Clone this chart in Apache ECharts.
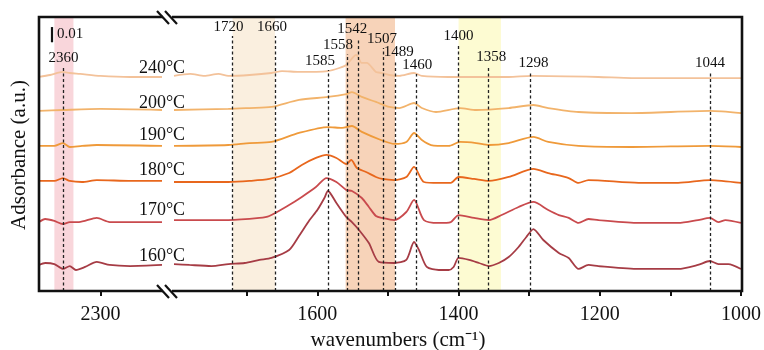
<!DOCTYPE html>
<html>
<head>
<meta charset="utf-8">
<script src="https://cdn.jsdelivr.net/npm/echarts@6.0.0/dist/echarts.min.js"></script>
<style>
  html, body { margin: 0; padding: 0; background: #fff; }
  #chart { width: 764px; height: 350px; }
</style>
</head>
<body>
<div id="chart"></div>
<script>
// x ranges of the two halves of the broken axis (cm-1)
const LEFT_RANGE = [2200, 2400];
const RIGHT_RANGE = [1000, 1803];

const LEFT_TICKS = [2300];
const RIGHT_TICKS = [1700, 1600, 1500, 1400, 1300, 1200, 1100, 1000];
const RIGHT_LABELS = [1600, 1400, 1200, 1000];

const TEMPS = ['240°C', '200°C', '190°C', '180°C', '170°C', '160°C'];
const COLORS = ['#f3c29a', '#f2b36b', '#ef9a3a', '#e8671d', '#c94a4d', '#a63c45'];

// spectra, [wavenumber, absorbance (offset)]
const T240_L = [[2400,0.1406],[2382,0.1419],[2361,0.1439],[2350,0.1432],[2333,0.1426],[2300,0.1413],[2252,0.1406],[2200,0.1406]];
const T240_R = [[1803,0.1413],[1780,0.1426],[1760,0.1413],[1740,0.1426],[1726,0.1413],[1696,0.1419],[1665,0.1432],[1650,0.1445],[1626,0.1439],[1585,0.1445],[1569,0.1465],[1559,0.1485],[1545,0.1551],[1537,0.1498],[1530,0.1498],[1517,0.1439],[1508,0.1432],[1498,0.1419],[1484,0.1413],[1463,0.1432],[1452,0.1413],[1414,0.1406],[1366,0.1406],[1329,0.1406],[1297,0.1413],[1202,0.1406],[1155,0.1399],[1000,0.1399]];

const T200_L = [[2400,0.1183],[2361,0.1189],[2300,0.1196],[2200,0.1189]];
const T200_R = [[1803,0.1189],[1726,0.1196],[1696,0.1202],[1665,0.1209],[1626,0.1255],[1585,0.1275],[1559,0.1294],[1551,0.1307],[1537,0.1275],[1517,0.1242],[1498,0.1209],[1484,0.1202],[1463,0.1235],[1452,0.1202],[1432,0.1176],[1398,0.1202],[1375,0.1189],[1329,0.1202],[1294,0.1222],[1273,0.1202],[1230,0.1176],[1155,0.1169],[1044,0.1183],[1000,0.1169]];

const T190_L = [[2400,0.0953],[2375,0.0953],[2361,0.0972],[2350,0.0946],[2330,0.0953],[2306,0.0959],[2200,0.0953]];
const T190_R = [[1803,0.0953],[1726,0.0959],[1696,0.0972],[1665,0.0979],[1626,0.1038],[1585,0.1077],[1565,0.1071],[1551,0.1084],[1537,0.1045],[1510,0.0992],[1491,0.0966],[1474,0.0979],[1463,0.1038],[1452,0.0992],[1439,0.0959],[1414,0.0953],[1398,0.0979],[1375,0.0972],[1357,0.0959],[1329,0.0972],[1294,0.1012],[1273,0.0979],[1230,0.0953],[1155,0.0946],[1044,0.0953],[1000,0.0946]];

const T180_L = [[2400,0.0723],[2375,0.0723],[2361,0.0742],[2350,0.0723],[2330,0.0716],[2306,0.0729],[2250,0.0723],[2200,0.0723]];
const T180_R = [[1803,0.0716],[1726,0.0716],[1696,0.0723],[1668,0.0736],[1640,0.0775],[1622,0.0828],[1602,0.0874],[1587,0.0894],[1573,0.0874],[1559,0.0834],[1552,0.0861],[1544,0.0808],[1531,0.0782],[1517,0.0749],[1508,0.0736],[1491,0.0729],[1474,0.0749],[1463,0.0815],[1449,0.0716],[1428,0.0710],[1411,0.0710],[1400,0.0749],[1378,0.0736],[1357,0.0723],[1329,0.0749],[1294,0.0802],[1273,0.0775],[1244,0.0742],[1230,0.0710],[1216,0.0729],[1145,0.0710],[1089,0.0710],[1044,0.0729],[1000,0.0710]];

const T170_L = [[2400,0.0453],[2390,0.0473],[2375,0.0460],[2361,0.0440],[2350,0.0453],[2335,0.0453],[2306,0.0480],[2285,0.0453],[2252,0.0453],[2200,0.0453]];
const T170_R = [[1803,0.0466],[1726,0.0466],[1682,0.0480],[1668,0.0493],[1640,0.0565],[1622,0.0618],[1602,0.0683],[1587,0.0742],[1573,0.0716],[1559,0.0664],[1551,0.0657],[1537,0.0611],[1527,0.0552],[1517,0.0493],[1508,0.0480],[1491,0.0466],[1474,0.0519],[1463,0.0598],[1449,0.0466],[1428,0.0447],[1411,0.0453],[1400,0.0499],[1378,0.0480],[1357,0.0466],[1339,0.0499],[1315,0.0552],[1294,0.0585],[1273,0.0532],[1258,0.0499],[1244,0.0480],[1230,0.0447],[1216,0.0473],[1202,0.0466],[1145,0.0447],[1089,0.0447],[1061,0.0466],[1044,0.0480],[1032,0.0453],[1022,0.0466],[1000,0.0447]];

const T160_L = [[2400,0.0171],[2390,0.0184],[2375,0.0177],[2361,0.0145],[2350,0.0164],[2340,0.0138],[2325,0.0158],[2306,0.0191],[2285,0.0171],[2252,0.0164],[2200,0.0171]];
const T160_R = [[1803,0.0177],[1781,0.0171],[1750,0.0164],[1726,0.0177],[1703,0.0184],[1682,0.0204],[1665,0.0217],[1640,0.0269],[1626,0.0361],[1611,0.0466],[1600,0.0532],[1590,0.0611],[1585,0.0657],[1573,0.0578],[1559,0.0486],[1551,0.0453],[1541,0.0401],[1527,0.0315],[1513,0.0191],[1491,0.0184],[1474,0.0204],[1463,0.0322],[1456,0.0269],[1445,0.0158],[1428,0.0138],[1414,0.0138],[1407,0.0158],[1400,0.0217],[1385,0.0204],[1371,0.0184],[1357,0.0164],[1343,0.0184],[1329,0.0223],[1315,0.0289],[1304,0.0355],[1294,0.0407],[1280,0.0335],[1258,0.0250],[1244,0.0217],[1230,0.0145],[1216,0.0171],[1202,0.0164],[1145,0.0145],[1089,0.0145],[1061,0.0171],[1044,0.0197],[1032,0.0177],[1018,0.0177],[1000,0.0145]];

const LEFT_SPECTRA = [T240_L, T200_L, T190_L, T180_L, T170_L, T160_L];
const RIGHT_SPECTRA = [T240_R, T200_R, T190_R, T180_R, T170_R, T160_R];

// marked peaks and the height where each dashed line stops
const LEFT_PEAKS = [2360];
const LEFT_PEAK_TOP = [0.1472];
const RIGHT_PEAKS = [1720, 1660, 1585, 1558, 1542, 1507, 1489, 1460, 1400, 1358, 1298, 1044];
const RIGHT_PEAK_TOP = [0.1675, 0.1675, 0.1452, 0.1557, 0.1662, 0.1597, 0.1511, 0.1426, 0.1616, 0.1478, 0.1439, 0.1439];
// horizontal nudge of each peak label (px)
const RIGHT_PEAK_DX = [-4, -3, -8, -9, -6, -1, 3, 1, 0, 3, 3, 0];

// shaded regions
const LEFT_BANDS = [[2375, 2344]];
const LEFT_BAND_COLORS = ['#f9d6db'];
const RIGHT_BANDS = [[1720, 1660], [1560, 1490], [1400, 1340]];
const RIGHT_BAND_COLORS = ['#faefdf', '#f7d3b9', '#fdfbd2'];

// scale bar: 0.01 a.u.
const SCALE_BAR = [2380, 0.1634, 0.01];

const Y_MAX = 0.18;
const TEMP_LABEL_Y = [68, 103, 135, 170, 210, 256];

const FONT = '"Liberation Serif", "Times New Roman", serif';
const chart = echarts.init(document.getElementById('chart'), null, { renderer: 'canvas' });

const xAxisBase = {
  type: 'value',
  inverse: true,
  axisLine: { show: false },
  splitLine: { show: false },
  axisTick: { show: true, length: 5, lineStyle: { color: '#111', width: 2 } },
  axisLabel: { color: '#111', fontFamily: FONT, fontSize: 20, margin: 14, formatter: v => String(v) },
};

function spectrumSeries(data, i, axis) {
  return {
    type: 'line',
    xAxisIndex: axis,
    yAxisIndex: axis,
    data: data,
    symbol: 'none',
    smooth: 0.25,
    silent: true,
    z: 3,
    lineStyle: { color: COLORS[i], width: 1.8 },
  };
}

function peakLines(peaks, tops, dx) {
  return peaks.map((p, i) => {
    const d = dx ? dx[i] : 0;
    return [
      { coord: [p, 0] },
      {
        coord: [p, tops[i]],
        label: { formatter: String(p), padding: [0, d < 0 ? -2 * d : 0, 0, d > 0 ? 2 * d : 0] },
      },
    ];
  });
}

function bandAreas(bands, colors) {
  return bands.map((b, i) => [
    { xAxis: b[0], itemStyle: { color: colors[i] } },
    { xAxis: b[1] },
  ]);
}

const markLineStyle = {
  symbol: ['none', 'none'],
  silent: true,
  lineStyle: { color: '#222', width: 1.3, type: [3, 2.5] },
  label: { show: true, position: 'end', distance: 1, color: '#111', fontFamily: FONT, fontSize: 15 },
};

const series = [
  // bands (under everything)
  {
    type: 'line', xAxisIndex: 0, yAxisIndex: 0, data: [], z: 1, silent: true,
    markArea: { silent: true, itemStyle: { opacity: 1 }, data: bandAreas(LEFT_BANDS, LEFT_BAND_COLORS) },
  },
  {
    type: 'line', xAxisIndex: 1, yAxisIndex: 1, data: [], z: 1, silent: true,
    markArea: { silent: true, itemStyle: { opacity: 1 }, data: bandAreas(RIGHT_BANDS, RIGHT_BAND_COLORS) },
  },
  // dashed peak markers
  {
    type: 'line', xAxisIndex: 0, yAxisIndex: 0, data: [], z: 2, silent: true,
    markLine: Object.assign({}, markLineStyle, {
      data: peakLines(LEFT_PEAKS, LEFT_PEAK_TOP).concat([[
        { coord: [SCALE_BAR[0], SCALE_BAR[1]], lineStyle: { type: 'solid', width: 2.2, color: '#111' }, label: { show: false } },
        { coord: [SCALE_BAR[0], SCALE_BAR[1] + SCALE_BAR[2]], lineStyle: { type: 'solid', width: 2.2, color: '#111' }, label: { show: false } },
      ]]),
    }),
  },
  {
    type: 'line', xAxisIndex: 1, yAxisIndex: 1, data: [], z: 2, silent: true,
    markLine: Object.assign({}, markLineStyle, { data: peakLines(RIGHT_PEAKS, RIGHT_PEAK_TOP, RIGHT_PEAK_DX) }),
  },
];
LEFT_SPECTRA.forEach((d, i) => series.push(spectrumSeries(d, i, 0)));
RIGHT_SPECTRA.forEach((d, i) => series.push(spectrumSeries(d, i, 1)));

const textStyle = { fill: '#111', font: '18px ' + FONT };

const option = {
  animation: false,
  backgroundColor: '#fff',
  grid: [
    { left: 39, top: 17, width: 123, bottom: 59 },
    { left: 174, top: 17, right: 21, bottom: 59 },
  ],
  xAxis: [
    Object.assign({}, xAxisBase, {
      gridIndex: 0, min: LEFT_RANGE[0], max: LEFT_RANGE[1], interval: 100,
      axisTick: Object.assign({}, xAxisBase.axisTick, { customValues: LEFT_TICKS }),
      axisLabel: Object.assign({}, xAxisBase.axisLabel, { customValues: LEFT_TICKS }),
    }),
    Object.assign({}, xAxisBase, {
      gridIndex: 1, min: RIGHT_RANGE[0], max: RIGHT_RANGE[1], interval: 100,
      axisTick: Object.assign({}, xAxisBase.axisTick, { customValues: RIGHT_TICKS }),
      axisLabel: Object.assign({}, xAxisBase.axisLabel, { customValues: RIGHT_LABELS }),
    }),
  ],
  yAxis: [
    { type: 'value', gridIndex: 0, min: 0, max: Y_MAX, show: false },
    { type: 'value', gridIndex: 1, min: 0, max: Y_MAX, show: false },
  ],
  series: series,
  graphic: [
    // frame
    {
      type: 'rect', z: 100, silent: true,
      shape: { x: 39, y: 17, width: 703, height: 274 },
      style: { fill: 'none', stroke: '#111', lineWidth: 2.6 },
    },
    // axis break marks
    { type: 'rect', z: 101, shape: { x: 163, y: 14, width: 9, height: 6 }, style: { fill: '#fff' } },
    { type: 'rect', z: 101, shape: { x: 163, y: 288, width: 9, height: 6 }, style: { fill: '#fff' } },
    { type: 'line', z: 102, shape: { x1: 157, y1: 11, x2: 169, y2: 24 }, style: { stroke: '#111', lineWidth: 2.2 } },
    { type: 'line', z: 102, shape: { x1: 165, y1: 11, x2: 177, y2: 24 }, style: { stroke: '#111', lineWidth: 2.2 } },
    { type: 'line', z: 102, shape: { x1: 157, y1: 285, x2: 169, y2: 298 }, style: { stroke: '#111', lineWidth: 2.2 } },
    { type: 'line', z: 102, shape: { x1: 165, y1: 285, x2: 177, y2: 298 }, style: { stroke: '#111', lineWidth: 2.2 } },
    // temperature labels
    ...TEMPS.map((t, i) => ({
      type: 'text', z: 50, x: 162, y: TEMP_LABEL_Y[i],
      style: Object.assign({ text: t, textAlign: 'center', textVerticalAlign: 'middle' }, textStyle),
    })),
    // scale bar label
    {
      type: 'text', z: 50, x: 57, y: 34,
      style: { text: '0.01', fill: '#111', font: '15px ' + FONT, textAlign: 'left', textVerticalAlign: 'middle' },
    },
    // axis titles
    {
      type: 'text', z: 50, x: 398, y: 340,
      style: { text: 'wavenumbers (cm⁻¹)', fill: '#111', font: '21px ' + FONT, textAlign: 'center', textVerticalAlign: 'middle' },
    },
    {
      type: 'text', z: 50, x: 19, y: 155, rotation: Math.PI / 2,
      style: { text: 'Adsorbance (a.u.)', fill: '#111', font: '21px ' + FONT, textAlign: 'center', textVerticalAlign: 'middle' },
    },
  ],
};

chart.setOption(option);
</script>
</body>
</html>
